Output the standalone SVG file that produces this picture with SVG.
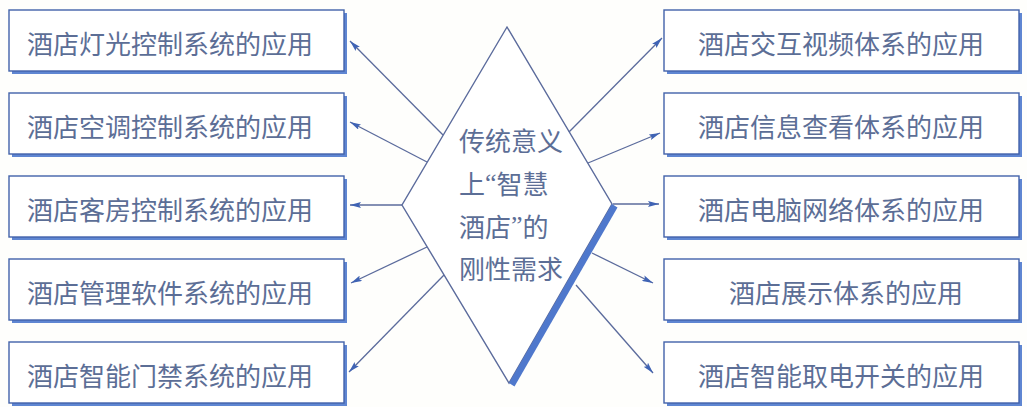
<svg xmlns="http://www.w3.org/2000/svg" width="1027" height="407" viewBox="0 0 1027 407">
  <style>
    .box { fill: #ffffff; stroke: #4262aa; stroke-width: 1.4; }
    .shadow { fill: #5f86d2; }
    .label { font-family: "Noto Sans CJK SC", "Liberation Sans", sans-serif; font-size: 26px; fill: #5c6e96; dominant-baseline: central; }
    .q { font-family: "Liberation Serif", "Noto Sans CJK SC", serif; }
    .conn { stroke: #5b6b9c; stroke-width: 1.3; fill: none; marker-end: url(#ah); }
    .diamond { fill: #ffffff; stroke: #5b6b9c; stroke-width: 1.4; }
  </style>
  <defs>
    <marker id="ah" viewBox="0 0 11 6" refX="11" refY="3" markerWidth="11" markerHeight="6" markerUnits="userSpaceOnUse" orient="auto">
      <path d="M0,0 L11,3 L0,6 L2,3 Z" fill="#3f63b4"/>
    </marker>
  </defs>
  <rect x="0" y="0" width="1027" height="407" fill="#fefefc"/>

  <g id="center">
    <polygon class="diamond" points="507,27 612,204 509,383 402,205"/>
    <polygon points="612,204 617.5,207.5 514.5,386.5 509,383" fill="#4f78cc"/>
    <text class="label" x="459" y="139">传统意义</text>
    <text class="label" x="459" y="182">上<tspan class="q">“</tspan>智慧</text>
    <text class="label" x="459" y="225">酒店<tspan class="q">”</tspan>的</text>
    <text class="label" x="459" y="267">刚性需求</text>
  </g>

  <g id="left1">
    <rect class="shadow" x="12" y="13" width="335" height="61"/>
    <rect class="box" x="9" y="10" width="335" height="61"/>
    <text class="label" x="27" y="42">酒店灯光控制系统的应用</text>
  </g>
  <g id="left2">
    <rect class="shadow" x="12" y="96" width="335" height="61"/>
    <rect class="box" x="9" y="93" width="335" height="61"/>
    <text class="label" x="27" y="125">酒店空调控制系统的应用</text>
  </g>
  <g id="left3">
    <rect class="shadow" x="12" y="179" width="335" height="61"/>
    <rect class="box" x="9" y="176" width="335" height="61"/>
    <text class="label" x="27" y="208">酒店客房控制系统的应用</text>
  </g>
  <g id="left4">
    <rect class="shadow" x="12" y="262" width="335" height="61"/>
    <rect class="box" x="9" y="259" width="335" height="61"/>
    <text class="label" x="27" y="291">酒店管理软件系统的应用</text>
  </g>
  <g id="left5">
    <rect class="shadow" x="12" y="345" width="335" height="61"/>
    <rect class="box" x="9" y="342" width="335" height="61"/>
    <text class="label" x="27" y="374">酒店智能门禁系统的应用</text>
  </g>

  <g id="right1">
    <rect class="shadow" x="667" y="13" width="355" height="61"/>
    <rect class="box" x="664" y="10" width="355" height="61"/>
    <text class="label" x="698" y="42">酒店交互视频体系的应用</text>
  </g>
  <g id="right2">
    <rect class="shadow" x="667" y="96" width="355" height="61"/>
    <rect class="box" x="664" y="93" width="355" height="61"/>
    <text class="label" x="698" y="125">酒店信息查看体系的应用</text>
  </g>
  <g id="right3">
    <rect class="shadow" x="667" y="179" width="355" height="61"/>
    <rect class="box" x="664" y="176" width="355" height="61"/>
    <text class="label" x="698" y="208">酒店电脑网络体系的应用</text>
  </g>
  <g id="right4">
    <rect class="shadow" x="667" y="262" width="355" height="61"/>
    <rect class="box" x="664" y="259" width="355" height="61"/>
    <text class="label" x="846" y="291" text-anchor="middle">酒店展示体系的应用</text>
  </g>
  <g id="right5">
    <rect class="shadow" x="667" y="345" width="355" height="61"/>
    <rect class="box" x="664" y="342" width="355" height="61"/>
    <text class="label" x="698" y="374">酒店智能取电开关的应用</text>
  </g>

  <g id="connectors">
    <line class="conn" x1="443" y1="135" x2="350" y2="41"/>
    <line class="conn" x1="427" y1="162" x2="350" y2="122"/>
    <line class="conn" x1="402" y1="205" x2="350" y2="205"/>
    <line class="conn" x1="427" y1="247" x2="351" y2="283"/>
    <line class="conn" x1="444" y1="275" x2="349" y2="372"/>
    <line class="conn" x1="569" y1="132" x2="662" y2="38"/>
    <line class="conn" x1="588" y1="163" x2="660" y2="133"/>
    <line class="conn" x1="613" y1="204" x2="659" y2="204"/>
    <line class="conn" x1="592" y1="253" x2="653" y2="283"/>
    <line class="conn" x1="576" y1="285" x2="653" y2="373"/>
  </g>
</svg>
